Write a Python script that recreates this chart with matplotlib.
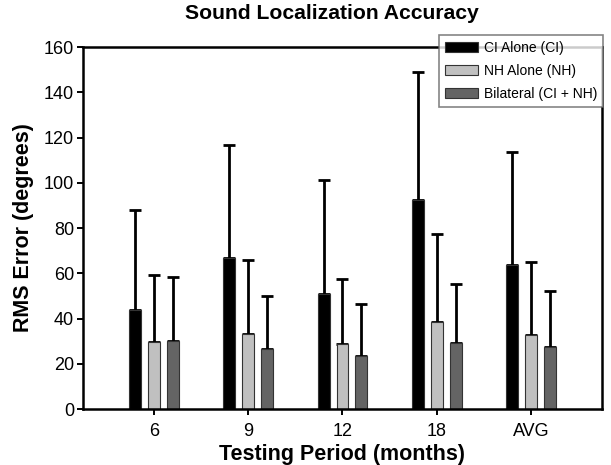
import numpy as np
import matplotlib
matplotlib.use('Agg')
import matplotlib.pyplot as plt

plt.rcParams['font.family'] = ['Liberation Sans', 'DejaVu Sans']

periods = ['6', '9', '12', '18', 'AVG']
series = ['CI Alone (CI)', 'NH Alone (NH)', 'Bilateral (CI + NH)']

ci_mean = [43.8, 66.7, 50.7, 92.4, 63.5]
ci_sd = [44.2, 50.0, 50.7, 56.6, 50.2]
nh_mean = [29.6, 33.0, 28.7, 38.6, 32.6]
nh_sd = [29.6, 32.8, 28.7, 38.9, 32.5]
bi_mean = [30.2, 26.4, 23.4, 29.0, 27.3]
bi_sd = [28.1, 23.6, 23.0, 26.1, 25.0]

colors = ['#000000', '#c0c0c0', '#646464']

fig = plt.figure(figsize=(6.11, 4.65), dpi=100)
ax = fig.add_axes([0.1358, 0.1204, 0.8495, 0.7785])

x = np.arange(len(periods))
width = 0.127
offsets = [-0.2, 0.0, 0.2]
means = [ci_mean, nh_mean, bi_mean]
sds = [ci_sd, nh_sd, bi_sd]

handles = []
for i in range(3):
    b = ax.bar(x + offsets[i], means[i], width, color=colors[i],
               edgecolor='#333333', linewidth=0.8, zorder=2, label=series[i])
    handles.append(b)
    ax.errorbar(x + offsets[i], means[i], yerr=[np.zeros(len(x)), sds[i]],
                fmt='none', ecolor='black', elinewidth=2.0, capsize=4.0,
                capthick=2.0, zorder=1)

ax.set_xlim(-0.75, 4.75)
ax.set_ylim(0, 160)
ax.set_yticks(range(0, 161, 20))
ax.set_xticks(x)
ax.set_xticklabels(periods)
ax.tick_params(axis='both', labelsize=13, width=1.4, length=4, direction='out')
ax.tick_params(axis='x', pad=6)
ax.tick_params(axis='y', pad=2.5)
for s in ax.spines.values():
    s.set_linewidth(1.8)

ax.set_title('Sound Localization Accuracy', fontsize=15.2, fontweight='bold',
             pad=20, x=0.48)
ax.set_xlabel('Testing Period (months)', fontsize=15.5, fontweight='bold', labelpad=3)
ax.set_ylabel('RMS Error (degrees)', fontsize=15.5, fontweight='bold', labelpad=7)

leg = fig.legend(handles=handles, loc='upper left', bbox_to_anchor=(0.718, 0.925),
                 fontsize=10, frameon=True, fancybox=False, handlelength=2.4,
                 handleheight=0.7, borderpad=0.45, labelspacing=0.65,
                 handletextpad=0.4, borderaxespad=0)
leg.get_frame().set_edgecolor('#666666')
leg.get_frame().set_linewidth(1.2)

fig.savefig('out.png', dpi=100)
